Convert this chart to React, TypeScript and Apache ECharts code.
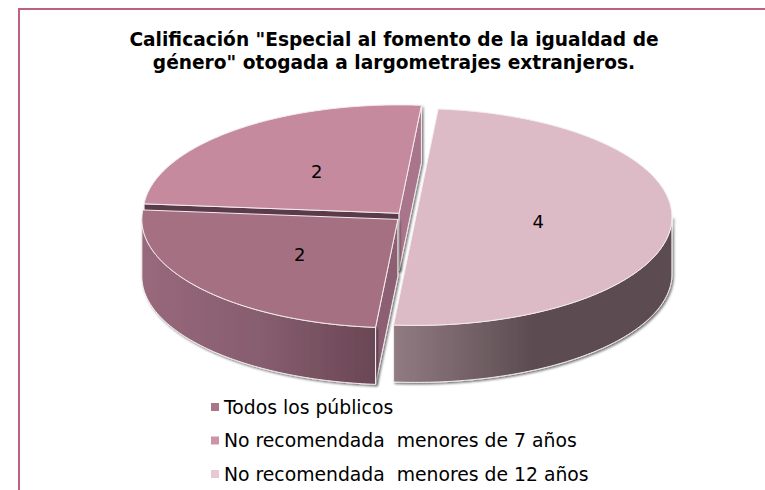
import React, { useEffect, useRef } from "react";
import * as echarts from "echarts";

const titleText = 'Calificación "Especial al fomento de la igualdad de\ngénero" otogada a largometrajes extranjeros.';
const categories = ["Todos los públicos", "No recomendada  menores de 7 años", "No recomendada  menores de 12 años"];
const seriesValues = [2, 2, 4];
const legendColors = ["#A97589", "#CE93A8", "#E7C8D3"];
const topColors = ["#A67083", "#C68A9F", "#DCBAC6"];
const cutColors = ["#8C6072", "#A8748A", "#5C4C51"];
const backCutColors = ["#5A3A48", "#5A3A48", "#5C4C51"];
const wallStops = [
  [[0, "#98687B"], [0.5, "#875E6F"], [1, "#6A4654"]],
  [[0, "#98687B"], [1, "#98687B"]],
  [[0, "#917B82"], [0.5, "#5C4C51"], [1, "#5C4C51"]],
];

const FIRST_ANGLE = 185;
const CX = 405.7;
const CY = 216.6;
const RX = 256;
const RY = 108.4;
const DEPTH = 57;
const EXPLODE = 0.04;
const total = seriesValues.reduce((a, b) => a + b, 0);

const rad = (d: number) => (d * Math.PI) / 180;
const px = (ax: number, t: number, f = 1) => ax + RX * f * Math.sin(rad(t));
const py = (ay: number, t: number, f = 1) => ay - RY * f * Math.cos(rad(t));

function sliceAngles(i: number) {
  const before = seriesValues.slice(0, i).reduce((a, b) => a + b, 0);
  const start = FIRST_ANGLE + (before / total) * 360;
  return { start, end: start + (seriesValues[i] / total) * 360 };
}

function arcPoints(ax: number, ay: number, a: number, b: number) {
  const pts: number[][] = [];
  const n = Math.max(2, Math.ceil(Math.abs(b - a) / 1));
  for (let k = 0; k <= n; k++) {
    const t = a + ((b - a) * k) / n;
    pts.push([px(ax, t), py(ay, t)]);
  }
  return pts;
}

const shadow = { shadowBlur: 2, shadowOffsetX: 1.5, shadowOffsetY: 1.5, shadowColor: "rgba(0,0,0,0.55)" };
const edge = { stroke: "#F4ECEF", lineWidth: 1 };

function renderSlice(i: number) {
  return () => {
    const { start, end } = sliceAngles(i);
    const mid = (start + end) / 2;
    const ax = px(CX, mid, EXPLODE);
    const ay = py(CY, mid, EXPLODE);
    const children: any[] = [];
    const cutFace = (t: number, fill: string) => ({
      type: "polygon",
      shape: {
        points: [
          [ax, ay],
          [px(ax, t), py(ay, t)],
          [px(ax, t), py(ay, t) + DEPTH],
          [ax, ay + DEPTH],
        ],
      },
      style: { fill, ...edge, ...shadow },
    });
    const s = start % 360;
    const e = end % 360;
    if (s > 180 && s < 360 && i !== 0) children.push(cutFace(start, backCutColors[i]));
    if (e < 90) children.push(cutFace(end, cutColors[i]));
    if (s > 180 && i === 0) children.push(cutFace(start, cutColors[i]));
    // outer wall: the part of the rim that faces the viewer (90..270 degrees)
    const wa = Math.max(start, 90);
    const wb = Math.min(end, 270);
    const wa2 = Math.max(start - 360, 90);
    const wb2 = Math.min(end - 360, 270);
    const a = wb > wa ? wa : wa2;
    const b = wb > wa ? wb : wb2;
    if (b > a) {
      const rim = arcPoints(ax, ay, a, b);
      const low = rim.slice().reverse().map((p) => [p[0], p[1] + DEPTH]);
      const xs = rim.map((p) => p[0]);
      const x0 = Math.min(...xs);
      const x1 = Math.max(...xs);
      const stops = wallStops[i].map((st: any) => ({ offset: st[0], color: st[1] }));
      children.push({
        type: "polygon",
        shape: { points: [...rim, ...low] },
        style: {
          fill: new echarts.graphic.LinearGradient(x0, 0, x1, 0, stops, true),
          ...edge,
          ...shadow,
        },
      });
    }
    children.push({
      type: "polygon",
      shape: { points: [[ax, ay], ...arcPoints(ax, ay, start, end)] },
      style: { fill: topColors[i], ...edge },
    });
    const share = seriesValues[i] / total;
    const f = 0.52 - 0.08 * share;
    children.push({
      type: "text",
      style: {
        x: px(ax, mid, f),
        y: py(ay, mid, f),
        text: String(seriesValues[i]),
        fill: "#000",
        font: "18px 'DejaVu Sans'",
        align: "center",
        verticalAlign: "middle",
      },
    });
    return { type: "group", children };
  };
}

// back-to-front so nearer slices cover the walls behind them
const drawOrder = [1, 0, 2];

export default function App() {
  const ref = useRef<HTMLDivElement>(null);
  useEffect(() => {
    const chart = echarts.init(ref.current!, null, { renderer: "svg" });
    chart.setOption({
      animation: false,
      backgroundColor: "#fff",
      title: {
        text: titleText,
        left: 389,
        top: 23,
        textAlign: "center",
        textStyle: { fontFamily: "DejaVu Sans", fontSize: 18.6, fontWeight: "bold", color: "#000", lineHeight: 23 },
      },
      legend: {
        orient: "vertical",
        left: 206,
        top: 392,
        itemWidth: 8,
        itemHeight: 8,
        itemGap: 13.5,
        icon: "rect",
        textStyle: { fontFamily: "DejaVu Sans", fontSize: 18.8, color: "#000", lineHeight: 20 },
        data: categories.map((name, i) => ({ name, itemStyle: { color: legendColors[i] } })),
      },
      graphic: [
        {
          type: "rect",
          silent: true,
          z: -10,
          shape: { x: 19, y: 9, width: 800, height: 520 },
          style: { fill: "#fff", stroke: "#BE6080", lineWidth: 2 },
        },
      ],
      series: drawOrder.map((i) => ({
        type: "custom",
        name: categories[i],
        coordinateSystem: "none",
        data: [seriesValues[i]],
        color: legendColors[i],
        renderItem: renderSlice(i),
        silent: true,
      })),
    });
    return () => chart.dispose();
  }, []);
  return <div ref={ref} style={{ position: "absolute", left: 0, top: 0, width: 765, height: 490 }} />;
}
